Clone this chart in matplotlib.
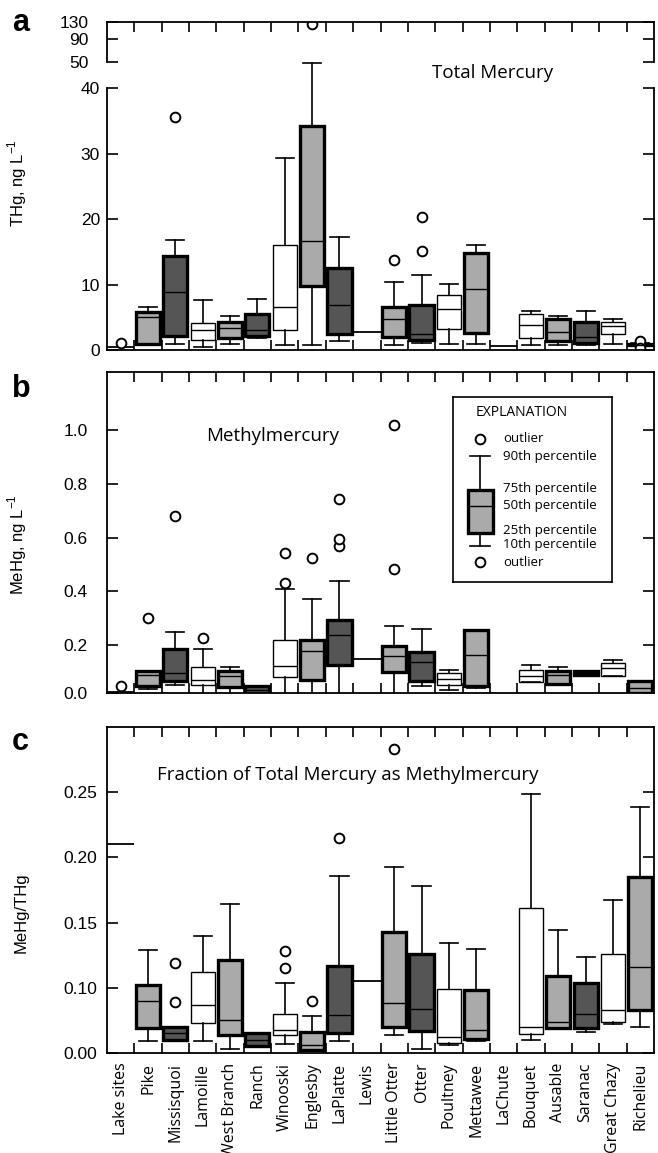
import numpy as np
import matplotlib
matplotlib.use('Agg')
import matplotlib.pyplot as plt

plt.rcParams['font.family'] = ['Liberation Sans', 'DejaVu Sans']
plt.rcParams['mathtext.fontset'] = 'custom'
plt.rcParams['mathtext.rm'] = 'Liberation Sans'

nan = np.nan

sites = ['Lake sites', 'Pike', 'Missisquoi', 'Lamoille', 'West Branch', 'Ranch',
         'Winooski', 'Englesby', 'LaPlatte', 'Lewis', 'Little Otter', 'Otter',
         'Poultney', 'Mettawee', 'LaChute', 'Bouquet', 'Ausable', 'Saranac',
         'Great Chazy', 'Richelieu']
shade = [None, 'light', 'dark', 'white', 'light', 'dark', 'white', 'light', 'dark', None,
         'light', 'dark', 'white', 'light', None, 'white', 'light', 'dark', 'white', 'light']

# --- a: total mercury, ng/L
thg_q1 = [nan, 0.9, 2.2, 1.6, 1.9, 2.2, 3.0, 9.8, 2.4, nan, 2.0, 1.6, 3.2, 2.6, nan, 1.9, 1.3, 1.0, 2.4, 0.7]
thg_med = [nan, 5.1, 8.8, 3.1, 3.3, 3.1, 6.6, 16.7, 6.9, nan, 4.8, 2.4, 6.2, 9.4, nan, 3.8, 2.8, 2.0, 3.6, 0.8]
thg_q3 = [nan, 5.8, 14.4, 4.1, 4.3, 5.5, 16.0, 34.3, 12.5, nan, 6.5, 6.9, 8.4, 14.9, nan, 5.5, 4.7, 4.3, 4.3, 0.9]
thg_lo = [nan, 0.7, 0.9, 0.5, 0.9, 1.8, 0.7, 0.7, 1.4, nan, 0.7, 1.0, 0.9, 0.9, nan, 0.7, 0.7, 0.8, 0.9, 0.6]
thg_hi = [nan, 6.6, 16.8, 7.6, 5.2, 7.8, 29.3, 49.5, 17.3, nan, 10.4, 11.5, 10.1, 16.0, nan, 6.0, 5.2, 6.0, 4.8, 1.0]
thg_out = [[1.0], [], [35.6], [], [], [], [], [125], [], [], [13.8], [15.2, 20.3], [], [], [], [], [], [], [], [1.3, 0.35]]
thg_line = [0.4, nan, nan, nan, nan, nan, nan, nan, nan, 2.7, nan, nan, nan, nan, 0.6, nan, nan, nan, nan, nan]

# --- b: methylmercury, ng/L
mehg_q1 = [nan, 0.05, 0.067, 0.052, 0.046, 0.021, 0.081, 0.073, 0.126, nan, 0.101, 0.067, 0.052, 0.048, nan, 0.063, 0.058, 0.091, 0.085, 0.024]
mehg_med = [nan, 0.09, 0.098, 0.073, 0.088, 0.033, 0.125, 0.178, 0.24, nan, 0.159, 0.137, 0.076, 0.165, nan, 0.088, 0.091, 0.098, 0.116, 0.042]
mehg_q3 = [nan, 0.105, 0.188, 0.12, 0.104, 0.048, 0.221, 0.219, 0.295, nan, 0.199, 0.174, 0.098, 0.256, nan, 0.11, 0.106, 0.106, 0.135, 0.067]
mehg_lo = [nan, 0.038, 0.052, 0.02, 0.02, 0.015, 0.017, 0.017, 0.015, nan, 0.017, 0.048, 0.036, 0.042, nan, 0.063, 0.058, 0.091, 0.085, 0.024]
mehg_hi = [nan, 0.105, 0.248, 0.188, 0.121, 0.048, 0.41, 0.372, 0.44, nan, 0.27, 0.26, 0.11, 0.256, nan, 0.126, 0.12, 0.106, 0.147, 0.067]
mehg_out = [[0.048], [0.30], [0.678], [0.226], [], [], [0.431, 0.542], [0.524], [0.57, 0.595, 0.742], [],
            [0.484, 1.017], [], [], [], [], [], [], [], [], []]
mehg_line = [0.028, nan, nan, nan, nan, nan, nan, nan, nan, 0.15, nan, nan, nan, nan, nan, nan, nan, nan, nan, nan]

# --- c: MeHg / THg
frac_q1 = [nan, 0.069, 0.060, 0.073, 0.064, 0.055, 0.064, 0.0525, 0.065, nan, 0.070, 0.067, 0.058, 0.061, nan, 0.0645, 0.069, 0.069, 0.074, 0.083]
frac_med = [nan, 0.090, 0.065, 0.087, 0.075, 0.060, 0.068, 0.056, 0.079, nan, 0.088, 0.084, 0.062, 0.068, nan, 0.070, 0.074, 0.080, 0.083, 0.116]
frac_q3 = [nan, 0.102, 0.070, 0.112, 0.121, 0.065, 0.080, 0.066, 0.117, nan, 0.143, 0.126, 0.099, 0.098, nan, 0.161, 0.109, 0.104, 0.126, 0.185]
frac_lo = [nan, 0.059, 0.060, 0.059, 0.053, 0.055, 0.057, 0.0525, 0.059, nan, 0.0635, 0.053, 0.056, 0.059, nan, 0.060, 0.069, 0.066, 0.072, 0.070]
frac_hi = [nan, 0.129, 0.070, 0.140, 0.164, 0.065, 0.104, 0.078, 0.186, nan, 0.193, 0.178, 0.134, 0.130, nan, 0.249, 0.144, 0.124, 0.167, 0.239]
frac_out = [[], [], [0.089, 0.119], [], [], [], [0.115, 0.128], [0.090], [0.215], [],
            [0.283], [], [], [], [], [], [], [], [], []]
frac_line = [0.21, nan, nan, nan, nan, nan, nan, nan, nan, 0.105, nan, nan, nan, nan, nan, nan, nan, nan, nan, nan]

# explanation box sample
key_stats = dict(med=0.411, q1=0.265, q3=0.497, whislo=0.195, whishi=0.681, fliers=[0.108, 0.773])
key_text = ['outlier', '90th percentile', '75th percentile', '50th percentile',
            '25th percentile', '10th percentile', 'outlier']
key_text_y = [0.773, 0.681, 0.508, 0.411, 0.276, 0.205, 0.108]

colors = {'light': '#aaaaaa', 'dark': '#555555', 'white': 'white'}
flier_style = dict(marker='o', mfc='white', mec='k', ms=7, mew=1.4, ls='none')
sans = ['Open Sans', 'DejaVu Sans']


def draw_boxes(ax, q1, med, q3, lo, hi, out, line, width=0.88):
    stats, pos = [], []
    for i in range(len(sites)):
        if not np.isnan(q1[i]):
            stats.append(dict(q1=q1[i], med=med[i], q3=q3[i], whislo=lo[i], whishi=hi[i], fliers=out[i]))
            pos.append(i)
        else:
            if not np.isnan(line[i]):
                ax.hlines(line[i], i - 0.5, i + 0.5, color='k', lw=1.3)
            if out[i]:
                ax.plot([i] * len(out[i]), out[i], **flier_style)
    art = ax.bxp(stats, positions=pos, widths=width, capwidths=0.66 * width / 0.88,
                 patch_artist=True,
                 whiskerprops=dict(color='k', lw=1.2),
                 capprops=dict(color='k', lw=1.2),
                 medianprops=dict(color='k', lw=1.0),
                 flierprops=flier_style)
    for box, i in zip(art['boxes'], pos):
        box.set_facecolor(colors[shade[i]])
        box.set_edgecolor('k')
        box.set_linewidth(1.0 if shade[i] == 'white' else 2.4)
    return art


def style_x(ax, labels=False):
    ax.set_xlim(-0.5, len(sites) - 0.5)
    ax.set_xticks(range(len(sites)))
    ax.set_xticks(np.arange(0.5, len(sites) - 0.5), minor=True)
    ax.tick_params(axis='x', which='major', length=0, pad=7)
    ax.tick_params(axis='x', which='minor', direction='in', top=True, bottom=True, length=7, width=1.2)
    if labels:
        ax.set_xticklabels(sites, rotation=90, family=sans, fontsize=11.5, va='top')
    else:
        ax.set_xticklabels([])
    for s in ax.spines.values():
        s.set_linewidth(1.3)


fig = plt.figure(figsize=(6.58, 11.53), dpi=100)
W, H = 658, 1153
L, R = 107, 654


def add_ax(top, bottom):
    return fig.add_axes([L / W, 1 - bottom / H, (R - L) / W, (bottom - top) / H])


# ---------- panel a (broken y axis) ----------
ax_a = add_ax(22, 350)
kv = [0, 40, 50, 90, 130]
kp = [0, 261.7, 288.3, 311, 328]
ax_a.set_yscale('function', functions=(lambda v: np.interp(v, kv, kp), lambda p: np.interp(p, kp, kv)))
ax_a.set_ylim(0, 130)
draw_boxes(ax_a, thg_q1, thg_med, thg_q3, thg_lo, thg_hi, thg_out, thg_line)
style_x(ax_a)
ax_a.spines['left'].set_visible(False)
ax_a.spines['right'].set_visible(False)
tr = ax_a.get_yaxis_transform()
for xs in (0, 1):
    for seg in ((0, 40), (50, 130)):
        ax_a.plot([xs, xs], seg, transform=tr, color='k', lw=1.3, clip_on=False)
ax_a.set_yticks([0, 10, 20, 30, 40, 50, 90, 130])
ax_a.set_yticklabels(['0', '10', '20', '30', '40', '50', '90', '130'])
ax_a.tick_params(axis='y', direction='in', left=True, right=True, length=8, width=1.2,
                 labelsize=12.5, pad=5)
for t in ax_a.yaxis.get_major_ticks()[5:]:
    t.set_pad(13)
ax_a.set_ylabel('THg, ng L$^{-1}$', fontsize=12)
ax_a.yaxis.set_label_coords(-0.143, 0.509)
ax_a.text(0.704, 0.845, 'Total Mercury', transform=ax_a.transAxes, ha='center', va='center',
          family=sans, fontsize=13.5)

# ---------- panel b ----------
ax_b = add_ax(372, 693.3)
ax_b.set_ylim(0.022, 1.214)
draw_boxes(ax_b, mehg_q1, mehg_med, mehg_q3, mehg_lo, mehg_hi, mehg_out, mehg_line)
style_x(ax_b)
ax_b.set_yticks([0.022, 0.2, 0.4, 0.6, 0.8, 1.0])
ax_b.set_yticklabels(['0.0', '0.2', '0.4', '0.6', '0.8', '1.0'])
ax_b.tick_params(axis='y', direction='in', left=True, right=True, length=8, width=1.2,
                 labelsize=12.5, pad=14)
ax_b.set_ylabel('MeHg, ng L$^{-1}$', fontsize=12)
ax_b.yaxis.set_label_coords(-0.143, 0.462)
ax_b.text(0.303, 0.801, 'Methylmercury', transform=ax_b.transAxes, ha='center', va='center',
          family=sans, fontsize=13.5)

# explanation key
ax_k = fig.add_axes([453 / W, 1 - 582 / H, 159 / W, 185 / H])
for s in ax_k.spines.values():
    s.set_linewidth(1.2)
kb = ax_k.bxp([key_stats], positions=[0.17], widths=0.157, capwidths=0.13, patch_artist=True,
              whiskerprops=dict(color='k', lw=1.2), capprops=dict(color='k', lw=1.2),
              medianprops=dict(color='k', lw=1.0), flierprops=flier_style)
kb['boxes'][0].set_facecolor(colors['light'])
kb['boxes'][0].set_linewidth(2.4)
ax_k.set_xlim(0, 1)
ax_k.set_ylim(0, 1)
ax_k.set_xticks([])
ax_k.set_yticks([])
ax_k.text(0.143, 0.914, 'EXPLANATION', family=sans, fontsize=10, va='center')
for t, y in zip(key_text, key_text_y):
    ax_k.text(0.314, y, t, family=sans, fontsize=9.5, va='center')

# ---------- panel c ----------
ax_c = add_ax(727, 1053)
ax_c.set_ylim(0.05, 0.30)
draw_boxes(ax_c, frac_q1, frac_med, frac_q3, frac_lo, frac_hi, frac_out, frac_line)
style_x(ax_c, labels=True)
ax_c.set_yticks([0.05, 0.10, 0.15, 0.20, 0.25])
ax_c.set_yticklabels(['0.00', '0.10', '0.15', '0.20', '0.25'])
ax_c.tick_params(axis='y', direction='in', left=True, right=True, length=8, width=1.2,
                 labelsize=12.5, pad=7)
ax_c.set_ylabel('MeHg/THg', fontsize=12)
ax_c.yaxis.set_label_coords(-0.143, 0.429)
ax_c.text(0.44, 0.853, 'Fraction of Total Mercury as Methylmercury', transform=ax_c.transAxes,
          ha='center', va='center', family=sans, fontsize=13.5)

for letter, yb in (('a', 31), ('b', 397), ('c', 750)):
    fig.text(12 / W, 1 - yb / H, letter, fontsize=22, fontweight='bold', va='baseline')

fig.savefig('out.png', dpi=100)
